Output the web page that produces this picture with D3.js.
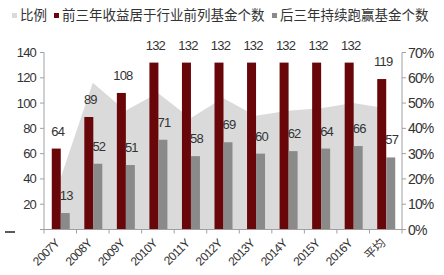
<!DOCTYPE html>
<html>
<head>
<meta charset="utf-8">
<script src="https://cdn.jsdelivr.net/npm/d3@7"></script>
<style>
  body { margin: 0; background: #fff; }
  svg text { font-family: "Liberation Sans", "Noto Sans CJK SC", sans-serif; fill: #333; }
</style>
</head>
<body>
<script>
var categories = ['2007Y', '2008Y', '2009Y', '2010Y', '2011Y', '2012Y', '2013Y', '2014Y', '2015Y', '2016Y', '平均'];
var topCounts = [64, 89, 108, 132, 132, 132, 132, 132, 132, 132, 119];
var keepCounts = [13, 52, 51, 71, 58, 69, 60, 62, 64, 66, 57];
var ratios = [0.20, 0.58, 0.47, 0.54, 0.44, 0.52, 0.45, 0.47, 0.48, 0.50, 0.48];
var leftTicks = [0, 20, 40, 60, 80, 100, 120, 140];
var rightTicks = [0, 0.1, 0.2, 0.3, 0.4, 0.5, 0.6, 0.7];
var legendNames = ['比例', '前三年收益居于行业前列基金个数', '后三年持续跑赢基金个数'];

var redColor = '#690609';
var grayColor = '#8a8a8a';
var areaColor = '#dadada';

var width = 444, height = 275;
var plotLeft = 44, plotRight = 402, plotTop = 52.5, plotBottom = 229.5;

var svg = d3.select('body').append('svg')
    .attr('width', width)
    .attr('height', height);

var x = d3.scaleBand().domain(categories).range([plotLeft, plotRight]).padding(0);
var yL = d3.scaleLinear().domain([0, 140]).range([plotBottom, plotTop]);
var yR = d3.scaleLinear().domain([0, 0.7]).range([plotBottom, plotTop]);

function center(d) { return x(d) + x.bandwidth() / 2; }

// area for ratio
var area = d3.area()
    .x(function(d, i) { return center(categories[i]); })
    .y0(plotBottom)
    .y1(function(d) { return yR(d); });

svg.append('path')
    .datum(ratios)
    .attr('d', area)
    .style('fill', areaColor);

// bars
svg.selectAll('.topbar')
    .data(topCounts)
    .enter().append('rect')
    .attr('class', 'topbar')
    .attr('x', function(d, i) { return center(categories[i]) - 8.5; })
    .attr('y', function(d) { return yL(d); })
    .attr('width', 9)
    .attr('height', function(d) { return plotBottom - yL(d); })
    .style('fill', redColor);

svg.selectAll('.keepbar')
    .data(keepCounts)
    .enter().append('rect')
    .attr('class', 'keepbar')
    .attr('x', function(d, i) { return center(categories[i]) + 0.5; })
    .attr('y', function(d) { return yL(d); })
    .attr('width', 9)
    .attr('height', function(d) { return plotBottom - yL(d); })
    .style('fill', grayColor);

// value labels
svg.selectAll('.toplabel')
    .data(topCounts)
    .enter().append('text')
    .attr('x', function(d, i) { return center(categories[i]) - 2.5; })
    .attr('y', function(d) { return yL(d) - 13; })
    .attr('text-anchor', 'middle')
    .style('font-size', '13px')
    .style('letter-spacing', '-0.8px')
    .text(function(d) { return d; });

svg.selectAll('.keeplabel')
    .data(keepCounts)
    .enter().append('text')
    .attr('x', function(d, i) { return center(categories[i]) + 6; })
    .attr('y', function(d) { return yL(d) - 13; })
    .attr('text-anchor', 'middle')
    .style('font-size', '13px')
    .style('letter-spacing', '-0.8px')
    .text(function(d) { return d; });

// axes
var axisColor = '#a0a0a0';

svg.append('line')
    .attr('x1', plotLeft).attr('x2', plotLeft)
    .attr('y1', plotTop).attr('y2', plotBottom)
    .style('stroke', axisColor);
svg.append('line')
    .attr('x1', plotRight).attr('x2', plotRight)
    .attr('y1', plotTop).attr('y2', plotBottom)
    .style('stroke', axisColor);
svg.append('line')
    .attr('x1', plotLeft).attr('x2', plotRight)
    .attr('y1', plotBottom).attr('y2', plotBottom)
    .style('stroke', axisColor);

svg.selectAll('.ltick')
    .data(leftTicks)
    .enter().append('line')
    .attr('x1', plotLeft - 4).attr('x2', plotLeft)
    .attr('y1', function(d) { return yL(d); })
    .attr('y2', function(d) { return yL(d); })
    .style('stroke', axisColor);

svg.selectAll('.llabel')
    .data(leftTicks.filter(function(d) { return d > 0; }))
    .enter().append('text')
    .attr('x', 36)
    .attr('y', function(d) { return yL(d) + 4.5; })
    .attr('text-anchor', 'end')
    .style('font-size', '13px')
    .style('letter-spacing', '-0.8px')
    .text(function(d) { return d; });

svg.append('line')
    .attr('x1', 5).attr('x2', 15)
    .attr('y1', 232).attr('y2', 232)
    .style('stroke', '#222')
    .style('stroke-width', 1.5);

svg.selectAll('.rtick')
    .data(rightTicks)
    .enter().append('line')
    .attr('x1', plotRight).attr('x2', plotRight + 4)
    .attr('y1', function(d) { return yR(d); })
    .attr('y2', function(d) { return yR(d); })
    .style('stroke', axisColor);

svg.selectAll('.rlabel')
    .data(rightTicks)
    .enter().append('text')
    .attr('x', plotRight + 6)
    .attr('y', function(d) { return yR(d) + 5; })
    .style('font-size', '14px')
    .style('letter-spacing', '-0.9px')
    .text(function(d) { return Math.round(d * 100) + '%'; });

svg.selectAll('.xtick')
    .data(categories.concat(['end']))
    .enter().append('line')
    .attr('x1', function(d, i) { return plotLeft + i * x.bandwidth(); })
    .attr('x2', function(d, i) { return plotLeft + i * x.bandwidth(); })
    .attr('y1', plotBottom).attr('y2', plotBottom + 4)
    .style('stroke', axisColor);

svg.selectAll('.xlabel')
    .data(categories)
    .enter().append('text')
    .attr('text-anchor', 'end')
    .attr('transform', function(d) {
        return 'translate(' + center(d) + ',' + 244 + ') rotate(-45)';
    })
    .style('font-size', '12px')
    .style('letter-spacing', '-0.6px')
    .text(function(d) { return d; });

// legend
var legendColors = [areaColor, redColor, grayColor];
var legendX = [12, 54, 272];
svg.selectAll('.lgbox')
    .data(legendNames)
    .enter().append('rect')
    .attr('x', function(d, i) { return legendX[i]; })
    .attr('y', 13)
    .attr('width', 5)
    .attr('height', 5)
    .style('fill', function(d, i) { return legendColors[i]; });

svg.selectAll('.lgtext')
    .data(legendNames)
    .enter().append('text')
    .attr('x', function(d, i) { return legendX[i] + 8; })
    .attr('y', 20)
    .style('font-size', '13.5px')
    .text(function(d) { return d; });
</script>
</body>
</html>
